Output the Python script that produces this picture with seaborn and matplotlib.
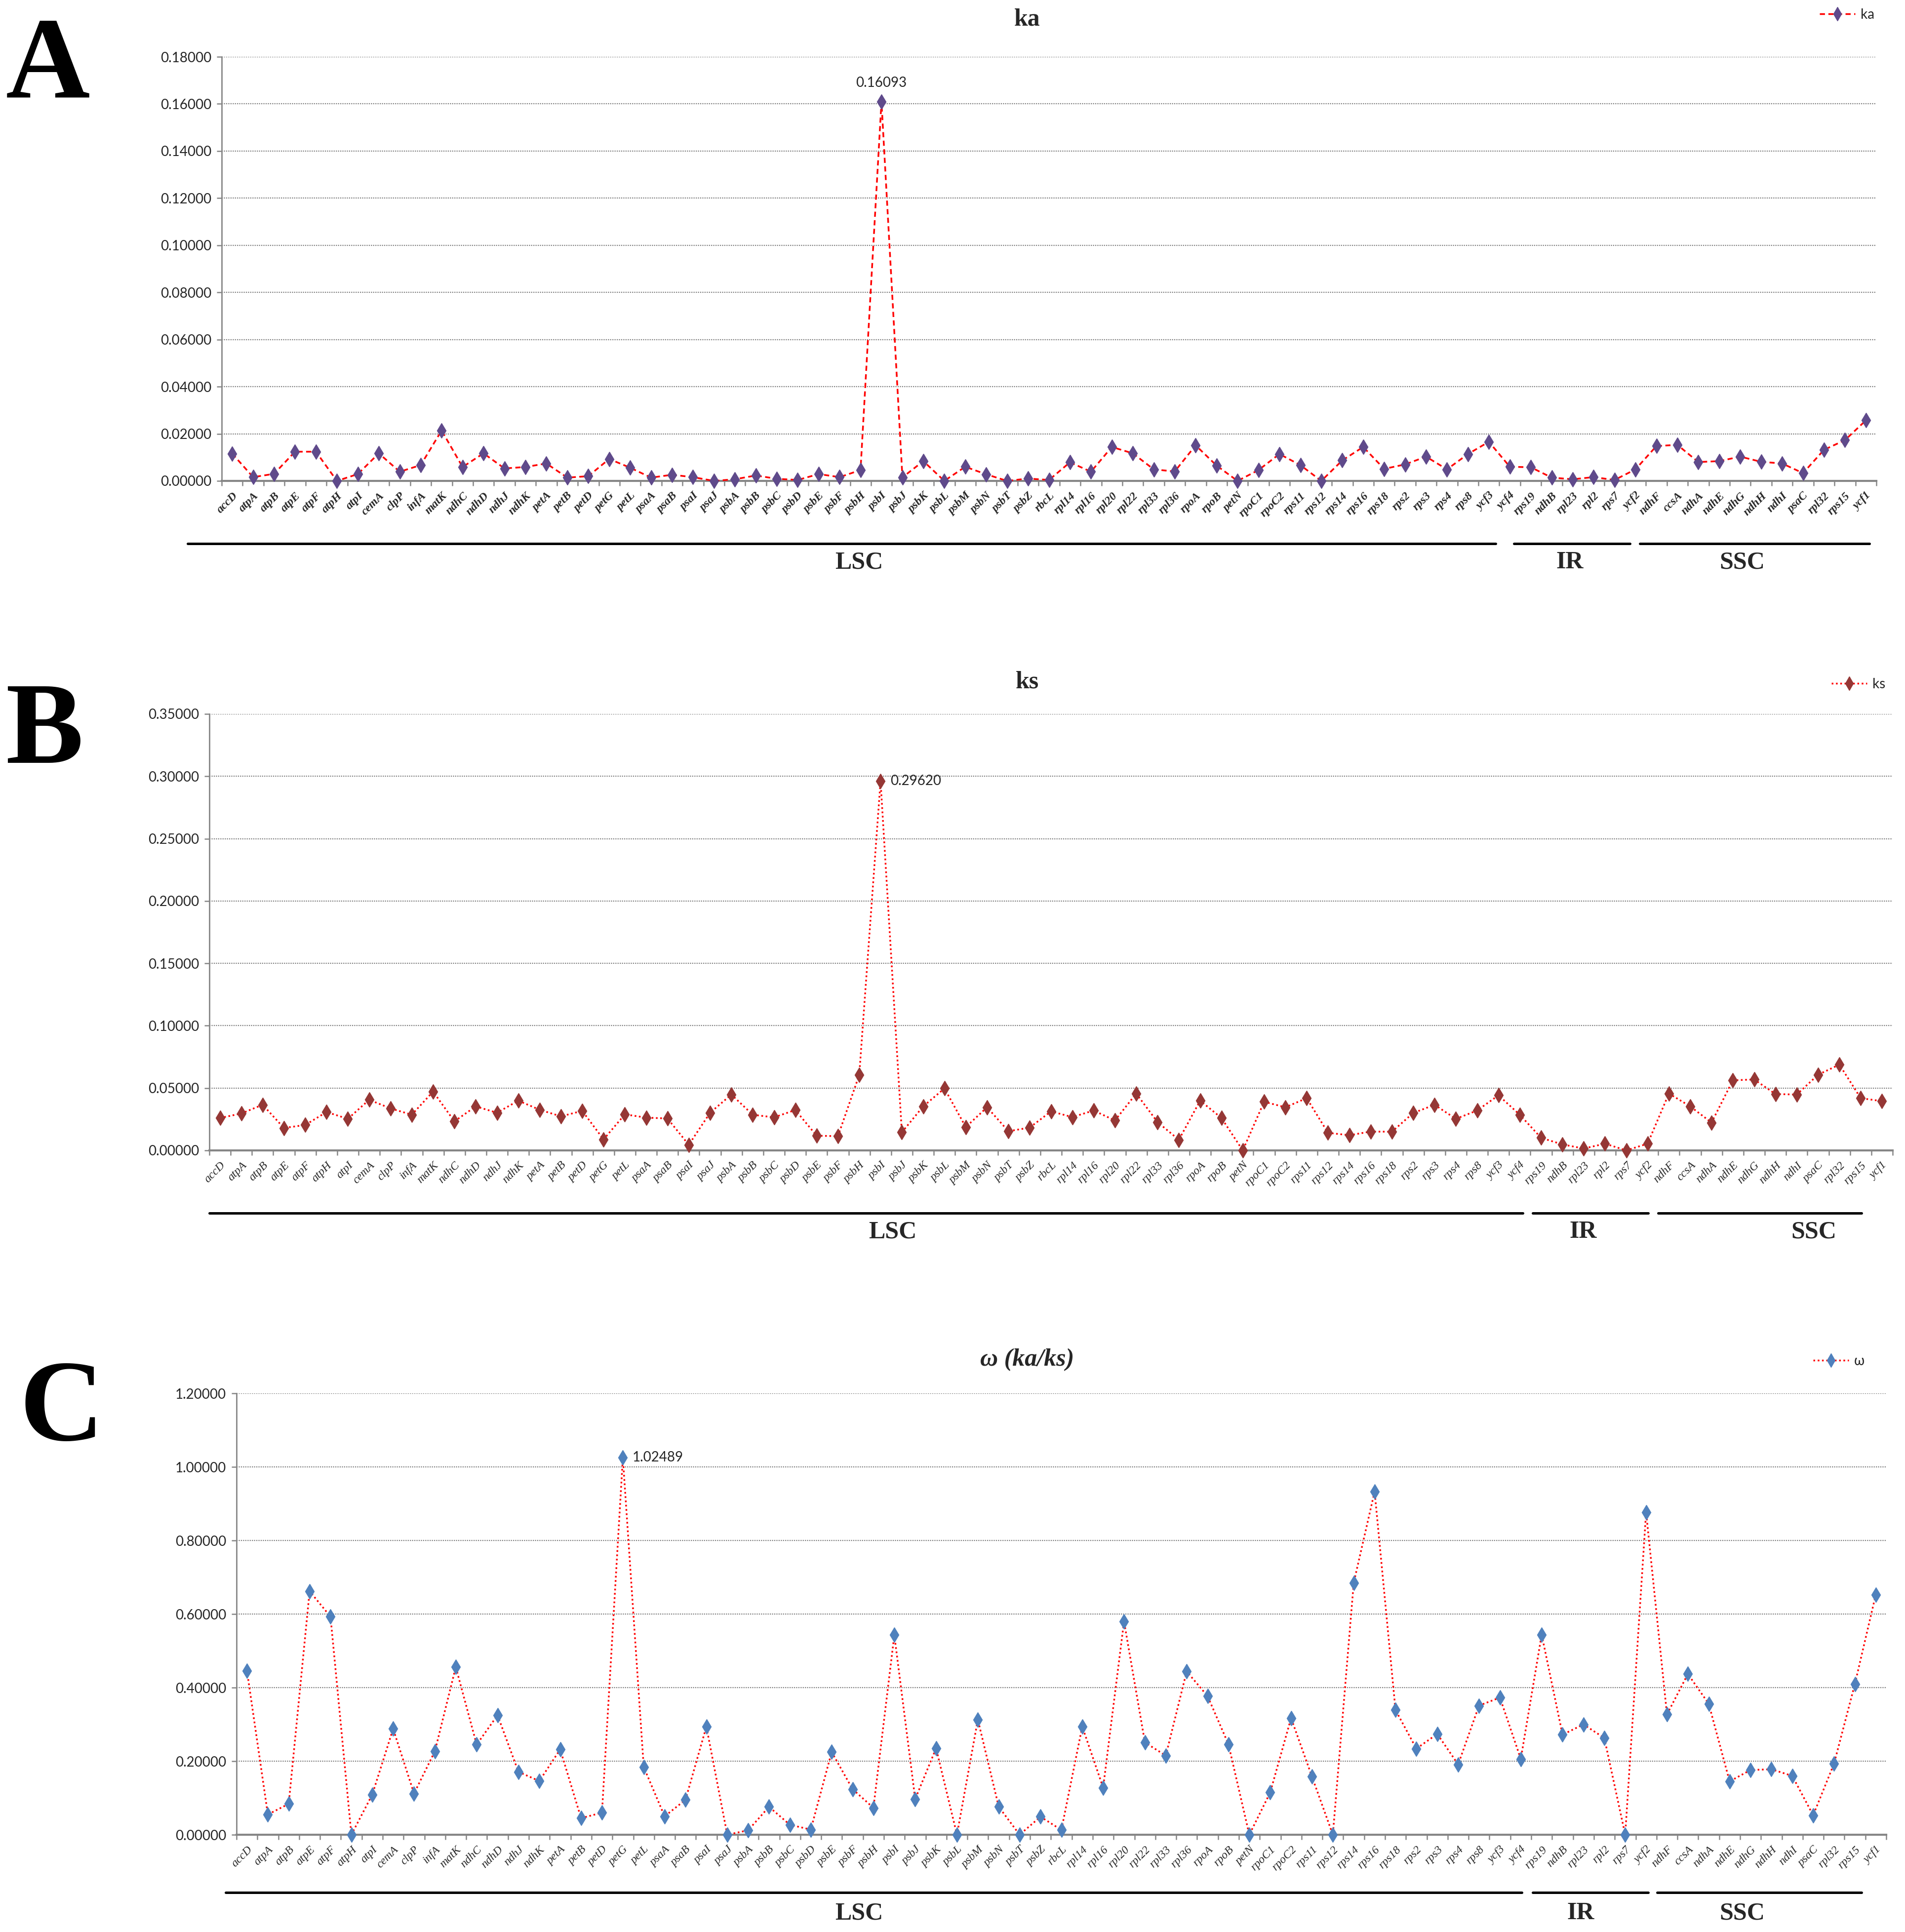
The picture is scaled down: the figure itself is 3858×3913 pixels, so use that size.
import numpy as np
import pandas as pd
import seaborn as sns
import matplotlib.pyplot as plt
from matplotlib.lines import Line2D
from matplotlib.ticker import FuncFormatter, MultipleLocator

sns.set_style("white")
plt.rcParams["font.family"] = ["Lato", "DejaVu Sans"]

genes = ["accD", "atpA", "atpB", "atpE", "atpF", "atpH", "atpI", "cemA", "clpP", "infA",
         "matK", "ndhC", "ndhD", "ndhJ", "ndhK", "petA", "petB", "petD", "petG", "petL",
         "psaA", "psaB", "psaI", "psaJ", "psbA", "psbB", "psbC", "psbD", "psbE", "psbF",
         "psbH", "psbI", "psbJ", "psbK", "psbL", "psbM", "psbN", "psbT", "psbZ", "rbcL",
         "rpl14", "rpl16", "rpl20", "rpl22", "rpl33", "rpl36", "rpoA", "rpoB", "petN", "rpoC1",
         "rpoC2", "rps11", "rps12", "rps14", "rps16", "rps18", "rps2", "rps3", "rps4", "rps8",
         "ycf3", "ycf4", "rps19", "ndhB", "rpl23", "rpl2", "rps7", "ycf2", "ndhF", "ccsA",
         "ndhA", "ndhE", "ndhG", "ndhH", "ndhI", "psaC", "rpl32", "rps15", "ycf1"]

ka = [0.0116, 0.0016, 0.0030, 0.0124, 0.0124, 0.0000, 0.0029, 0.0117, 0.0039, 0.0067,
      0.0214, 0.0059, 0.0117, 0.0053, 0.0059, 0.0074, 0.0014, 0.0020, 0.0093, 0.0056,
      0.0014, 0.0026, 0.0016, 0.0000, 0.0007, 0.0023, 0.0009, 0.0004, 0.0029, 0.0016,
      0.0046, 0.16093, 0.0015, 0.0084, 0.0000, 0.0060, 0.0028, 0.0000, 0.0010, 0.0004,
      0.0079, 0.0039, 0.0144, 0.0117, 0.0049, 0.0040, 0.0151, 0.0065, 0.0000, 0.0046,
      0.0114, 0.0067, 0.0000, 0.0087, 0.0144, 0.0051, 0.0070, 0.0103, 0.0049, 0.0114,
      0.0166, 0.0060, 0.0058, 0.0014, 0.0007, 0.0016, 0.0004, 0.0049, 0.0148, 0.0153,
      0.0080, 0.0084, 0.0103, 0.0081, 0.0074, 0.0033, 0.0132, 0.0173, 0.0257]

ks = [0.0260, 0.0296, 0.0366, 0.0180, 0.0204, 0.0308, 0.0253, 0.0406, 0.0337, 0.0286,
      0.0472, 0.0233, 0.0353, 0.0302, 0.0399, 0.0326, 0.0273, 0.0317, 0.0088, 0.0289,
      0.0263, 0.0256, 0.0045, 0.0302, 0.0448, 0.0286, 0.0265, 0.0324, 0.0118, 0.0114,
      0.0605, 0.29620, 0.0145, 0.0353, 0.0497, 0.0187, 0.0346, 0.0154, 0.0183, 0.0313,
      0.0267, 0.0320, 0.0240, 0.0456, 0.0227, 0.0085, 0.0399, 0.0260, 0.0000, 0.0390,
      0.0346, 0.0419, 0.0141, 0.0122, 0.0151, 0.0150, 0.0300, 0.0366, 0.0253, 0.0320,
      0.0442, 0.0286, 0.0101, 0.0048, 0.0015, 0.0054, 0.0000, 0.0054, 0.0456, 0.0353,
      0.0223, 0.0562, 0.0569, 0.0452, 0.0448, 0.0607, 0.0688, 0.0419, 0.0395]

omega = [0.446, 0.055, 0.084, 0.662, 0.593, 0.000, 0.109, 0.288, 0.112, 0.227,
         0.456, 0.245, 0.325, 0.171, 0.146, 0.232, 0.045, 0.060, 1.02489, 0.184,
         0.050, 0.095, 0.294, 0.000, 0.012, 0.076, 0.027, 0.014, 0.225, 0.124,
         0.073, 0.543, 0.097, 0.235, 0.000, 0.313, 0.076, 0.000, 0.049, 0.013,
         0.294, 0.128, 0.580, 0.251, 0.215, 0.444, 0.377, 0.246, 0.000, 0.115,
         0.317, 0.158, 0.000, 0.685, 0.933, 0.339, 0.234, 0.274, 0.191, 0.351,
         0.373, 0.206, 0.544, 0.272, 0.300, 0.263, 0.000, 0.877, 0.327, 0.437,
         0.356, 0.145, 0.176, 0.178, 0.160, 0.053, 0.193, 0.410, 0.653]

regions = ["LSC", "IR", "SSC"]
W, H = 3858, 3913

# layout of each panel in pixel coordinates of the reference
panels = [
    dict(vals=ka, letter="A", title="ka", legend="ka", ymax=0.18, step=0.02,
         axes=(449, 3800, 115, 974), ls=(0, (3, 2)), mc="#5f4a8b",
         peak=31, peak_text="0.16093", peak_pos="above",
         title_y=40, letter_xy=(97, 140), leg=(3810, 30),
         tickweight="bold", line_y=1101, text_y=1139,
         segs=[(380, 3029), (3066, 3301), (3321, 3786)], text_x=[1740, 3179, 3528]),
    dict(vals=ks, letter="B", title="ks", legend="ks", ymax=0.35, step=0.05,
         axes=(424, 3833, 1446, 2330), ls=(0, (1, 1.5)), mc="#953735",
         peak=31, peak_text="0.29620", peak_pos="right",
         title_y=1381, letter_xy=(90, 1488), leg=(3832, 1386),
         tickweight="normal", line_y=2457, text_y=2495,
         segs=[(424, 3084), (3104, 3338), (3358, 3770)], text_x=[1808, 3206, 3673]),
    dict(vals=omega, letter="C", title="ω (ka/ks)", legend="ω", ymax=1.2, step=0.2,
         axes=(479, 3820, 2822, 3716), ls=(0, (1, 1.5)), mc="#4f81bd",
         peak=18, peak_text="1.02489", peak_pos="right",
         title_y=2754, letter_xy=(125, 2860), leg=(3790, 2757),
         tickweight="normal", line_y=3833, text_y=3875,
         segs=[(457, 3082), (3104, 3338), (3356, 3770)], text_x=[1740, 3201, 3528]),
]

fig = plt.figure(figsize=(W / 100, H / 100), dpi=100)

for p in panels:
    x0, x1, ytop, ybot = p["axes"]
    ax = fig.add_axes([x0 / W, 1 - ybot / H, (x1 - x0) / W, (ybot - ytop) / H])
    df = pd.DataFrame({"gene": genes, "value": p["vals"]})
    sns.lineplot(data=df, x="gene", y="value", sort=False, ax=ax, color="red",
                 linestyle=p["ls"], linewidth=2.5, marker="d", markersize=15,
                 markerfacecolor=p["mc"], markeredgecolor=p["mc"], markeredgewidth=1,
                 clip_on=False, zorder=3)

    ax.set_xlim(-0.5, len(genes) - 0.5)
    ax.set_ylim(0, p["ymax"])
    ax.yaxis.set_major_locator(MultipleLocator(p["step"]))
    ax.yaxis.set_major_formatter(FuncFormatter(lambda v, _: f"{v:.5f}"))
    ax.set_xticks(np.arange(len(genes)))
    ax.set_xticks(np.arange(len(genes) + 1) - 0.5, minor=True)
    ax.set_xticklabels(genes, rotation=45, ha="right", rotation_mode="anchor",
                       family=["Liberation Serif", "DejaVu Serif"], style="italic",
                       weight=p["tickweight"], fontsize=17)
    ax.tick_params(axis="x", which="major", length=0, pad=14)
    ax.tick_params(axis="x", which="minor", length=7, width=1.8, color="#868686",
                   direction="out", bottom=True)
    ax.tick_params(axis="y", length=7, width=1.8, color="#868686", labelsize=20, pad=8,
                   left=True)
    ax.set_xlabel("")
    ax.set_ylabel("")
    ax.yaxis.grid(True, color="#7f7f7f", linestyle=(0, (1, 1)), linewidth=1.6)
    ax.xaxis.grid(False)
    for s in ["top", "right"]:
        ax.spines[s].set_visible(False)
    ax.spines["left"].set_color("#868686")
    ax.spines["left"].set_linewidth(2)
    ax.spines["bottom"].set_color("#868686")
    ax.spines["bottom"].set_linewidth(3)

    # peak value label
    i = p["peak"]
    if p["peak_pos"] == "above":
        ax.annotate(p["peak_text"], (i, p["vals"][i]), xytext=(0, 18),
                    textcoords="offset points", ha="center", va="bottom", fontsize=20)
    else:
        ax.annotate(p["peak_text"], (i, p["vals"][i]), xytext=(14, 0),
                    textcoords="offset points", ha="left", va="center", fontsize=20)

    # legend
    handle = Line2D([], [], color="red", linestyle=p["ls"], linewidth=2.5, marker="d",
                    markersize=14, markerfacecolor=p["mc"], markeredgecolor=p["mc"])
    ax.legend([handle], [p["legend"]], loc="center right",
              bbox_to_anchor=(p["leg"][0] / W, 1 - p["leg"][1] / H),
              bbox_transform=fig.transFigure, frameon=False, fontsize=20,
              handlelength=2.6, borderpad=0, handletextpad=0.4)

    # title and panel letter
    fig.text(2080 / W, 1 - p["title_y"] / H, p["title"], ha="center", va="center",
             family=["Liberation Serif", "DejaVu Serif"], weight="bold",
             style="italic" if p["letter"] == "C" else "normal", fontsize=36)
    fig.text(p["letter_xy"][0] / W, 1 - p["letter_xy"][1] / H, p["letter"],
             ha="center", va="center", family=["Liberation Serif", "DejaVu Serif"],
             weight="bold", fontsize=170, color="black")

    # genome region bars
    ly = 1 - p["line_y"] / H
    for (a, b), name, tx in zip(p["segs"], regions, p["text_x"]):
        fig.add_artist(Line2D([a / W, b / W], [ly, ly], color="black", linewidth=3.6,
                              transform=fig.transFigure))
        fig.text(tx / W, 1 - p["text_y"] / H, name, ha="center", va="center",
                 family=["Liberation Serif", "DejaVu Serif"], weight="bold", fontsize=36)

fig.savefig("out.png", dpi=100, facecolor="white")
